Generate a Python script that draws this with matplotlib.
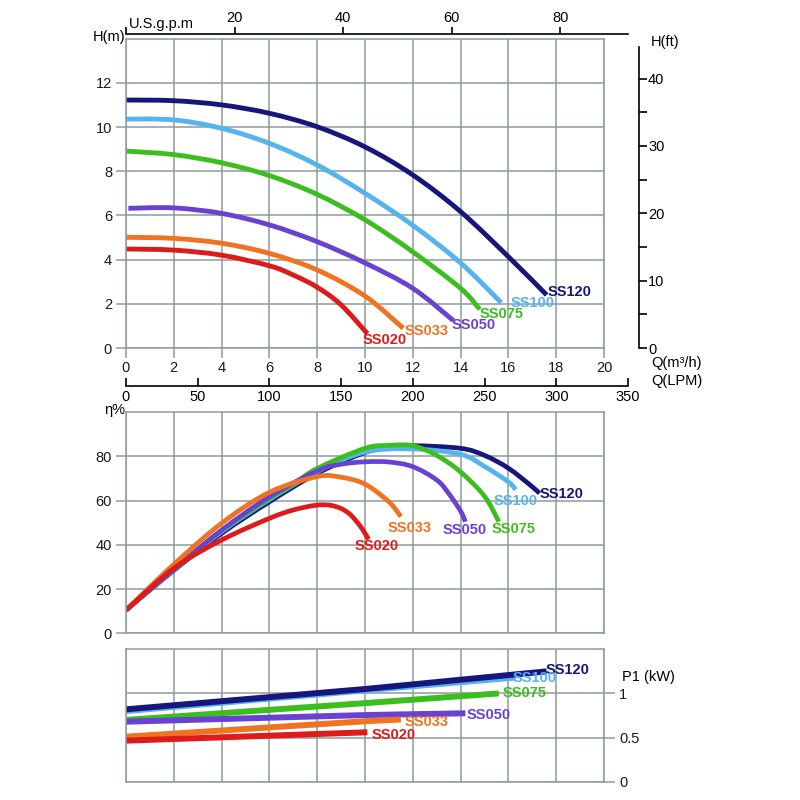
import numpy as np
import matplotlib
matplotlib.use("Agg")
import matplotlib.pyplot as plt
from matplotlib.path import Path
from matplotlib.patches import PathPatch

plt.rcParams['font.family'] = ['Liberation Sans', 'DejaVu Sans']

# pump models and colours
models = ['SS120', 'SS100', 'SS075', 'SS050', 'SS033', 'SS020']
colors = ['#16167c', '#55b3ee', '#3cbf1e', '#6a42d2', '#ef7321', '#df1a1a']

# H-Q curves (Q in m3/h, H in m)
hq_q = {
    'SS120': [0, 2, 4, 6, 8, 10, 12, 14, 16, 17.6],
    'SS100': [0, 2, 4, 6, 8, 10, 12, 14, 15.7],
    'SS075': [0, 2, 4, 6, 8, 10, 12, 14, 14.8],
    'SS050': [0.1, 2, 4, 6, 8, 10, 12, 13.7],
    'SS033': [0, 2, 4, 6, 8, 10, 11.6],
    'SS020': [0, 2, 4, 6, 7, 8, 9, 10.1],
}
hq_h = {
    'SS120': [11.22, 11.19, 11.0, 10.62, 10.01, 9.1, 7.83, 6.17, 4.13, 2.4],
    'SS100': [10.36, 10.32, 9.94, 9.26, 8.28, 7.0, 5.55, 3.85, 2.05],
    'SS075': [8.91, 8.75, 8.38, 7.8, 6.95, 5.8, 4.35, 2.7, 1.75],
    'SS050': [6.32, 6.34, 6.09, 5.57, 4.81, 3.85, 2.7, 1.24],
    'SS033': [5.01, 4.96, 4.74, 4.28, 3.53, 2.35, 0.89],
    'SS020': [4.48, 4.43, 4.2, 3.72, 3.3, 2.75, 1.95, 0.65],
}

# efficiency curves (%)
eff_q = {
    'SS120': [0, 2, 4, 6, 8, 10, 11, 12, 14, 15, 16, 17, 17.3],
    'SS100': [0, 2, 4, 6, 8, 10, 12, 14, 15, 16, 16.3],
    'SS075': [0, 2, 4, 6, 7, 8, 10, 11, 12, 13, 14, 15, 15.6],
    'SS050': [0, 2, 4, 6, 8, 9, 10, 11, 12, 13, 13.5, 14, 14.2],
    'SS033': [0, 2, 4, 6, 8, 9, 10, 11, 11.5],
    'SS020': [0, 2, 4, 6, 7, 8, 8.7, 9.3, 9.8, 10.15],
}
eff_v = {
    'SS120': [10.5, 28.5, 45.2, 59.5, 72.4, 81.8, 84.0, 84.9, 83.7, 80.5, 74.7, 66.3, 63.3],
    'SS100': [10.5, 28.8, 46.0, 60.5, 73.1, 82.0, 83.4, 81.0, 75.5, 68.5, 65.0],
    'SS075': [10.5, 29.0, 46.5, 61.0, 67.5, 74.6, 83.7, 85.0, 84.9, 80.5, 73.0, 62.0, 50.5],
    'SS050': [10.5, 29.0, 46.7, 61.8, 73.5, 76.5, 77.6, 77.5, 75.4, 69.4, 63.3, 55.3, 50.5],
    'SS033': [10.5, 31.2, 49.8, 63.8, 70.9, 70.6, 67.5, 59.5, 52.8],
    'SS020': [10.5, 29.4, 42.2, 52.0, 55.8, 58.0, 57.6, 54.5, 48.5, 42.5],
}

# input power P1 (kW)
p1_q = {
    'SS120': [0, 10, 17.6],
    'SS100': [0, 10, 16.3],
    'SS075': [0, 10, 15.6],
    'SS050': [0, 10, 14.2],
    'SS033': [0, 10, 11.5],
    'SS020': [0, 10.1],
}
p1_v = {
    'SS120': [0.82, 1.05, 1.25],
    'SS100': [0.80, 1.035, 1.18],
    'SS075': [0.70, 0.89, 1.0],
    'SS050': [0.68, 0.755, 0.775],
    'SS033': [0.51, 0.685, 0.705],
    'SS020': [0.465, 0.56],
}

# label anchors (left / centre of text) per panel
lab_hq = {'SS120': (17.66, 2.53), 'SS100': (16.09, 2.05), 'SS075': (14.81, 1.54),
          'SS050': (13.63, 1.04), 'SS033': (11.67, 0.78), 'SS020': (9.92, 0.36)}
lab_eff = {'SS120': (17.32, 63.0), 'SS100': (15.4, 59.9), 'SS075': (15.3, 47.2),
           'SS050': (13.26, 46.7), 'SS033': (10.96, 47.8), 'SS020': (9.58, 39.5)}
lab_p1 = {'SS120': (17.57, 1.27), 'SS100': (16.19, 1.17), 'SS075': (15.77, 1.007),
          'SS050': (14.27, 0.755), 'SS033': (11.67, 0.675), 'SS020': (10.29, 0.528)}

gc = '#8e9b9b'
fs = 10.5
lfs = 10.5

def fx(px):
    return px / 800.0

def fy(py):
    return 1 - py / 800.0

def smooth_curve(ax, xs, ys, color, lw):
    # catmull-rom style bezier path through the read points
    pts = np.column_stack([xs, ys]).astype(float)
    n = len(pts)
    if n < 3:
        ax.plot(xs, ys, color=color, lw=lw, solid_capstyle='butt')
        return
    verts = [pts[0]]
    codes = [Path.MOVETO]
    for i in range(n - 1):
        p0 = pts[max(i - 1, 0)]
        p1 = pts[i]
        p2 = pts[i + 1]
        p3 = pts[min(i + 2, n - 1)]
        c1 = p1 + (p2 - p0) / 6.0
        c2 = p2 - (p3 - p1) / 6.0
        verts += [c1, c2, p2]
        codes += [Path.CURVE4] * 3
    ax.add_patch(PathPatch(Path(verts, codes), fill=False, edgecolor=color, lw=lw,
                           capstyle='butt'))

fig = plt.figure(figsize=(8, 8), dpi=100)

def grid_axes(rect, ylim, ystep):
    ax = fig.add_axes(rect)
    ax.set_xlim(0, 20)
    ax.set_ylim(*ylim)
    ax.set_xticks(np.arange(0, 21, 2))
    ax.set_yticks(np.arange(ylim[0], ylim[1] + 1e-9, ystep))
    ax.grid(True, color=gc, lw=1.1)
    ax.set_axisbelow(True)
    for s in ax.spines.values():
        s.set_color(gc)
        s.set_linewidth(1.1)
    ax.tick_params(colors=gc, labelcolor='#1a1a1a', labelsize=fs, width=1.1)
    return ax

# ---- top panel: H-Q
ax1 = grid_axes([fx(126), fy(348), 478 / 800, (348 - 38.6) / 800], (0, 14), 2)
ax1.set_yticks(np.arange(0, 13, 2))
ax1.tick_params(axis='x', length=7, pad=2)
ax1.tick_params(axis='y', length=7, pad=3)
for m, c in zip(models, colors):
    smooth_curve(ax1, hq_q[m], hq_h[m], c, 3.5)
    ax1.text(lab_hq[m][0], lab_hq[m][1], m, color=c, fontsize=lfs, fontweight='bold',
             ha='left', va='center')
fig.text(fx(125), fy(37), 'H(m)', ha='right', va='center', fontsize=fs)

# feet axis on the right
axf = fig.add_axes(ax1.get_position())
axf.patch.set_visible(False)
axf.set_xlim(0, 20)
axf.set_ylim(0, 14 * 3.28084)
axf.set_xticks([])
axf.yaxis.tick_right()
for k in ['left', 'top', 'bottom']:
    axf.spines[k].set_visible(False)
axf.spines['right'].set_position(('outward', 35 * 0.72))
axf.spines['right'].set_bounds(0, 44.7)
axf.spines['right'].set_linewidth(1.2)
axf.set_yticks([0, 10, 20, 30, 40])
axf.set_yticks([5, 15, 25, 35], minor=True)
axf.tick_params(axis='y', which='both', direction='out', length=5.5, width=1.2,
                labelsize=fs, pad=1)
fig.text(fx(651), fy(42), 'H(ft)', ha='left', va='center', fontsize=fs)

# U.S. gpm axis on top
axg = fig.add_axes([fx(126), fy(34), 502 / 800, 0.0005])
axg.patch.set_visible(False)
axg.set_xlim(0, 21 / 0.227124)
axg.set_yticks([])
for k in ['left', 'right', 'bottom']:
    axg.spines[k].set_visible(False)
axg.spines['top'].set_linewidth(1.2)
axg.xaxis.tick_top()
axg.set_xticks([0, 20, 40, 60, 80])
axg.set_xticklabels(['', '20', '40', '60', '80'])
axg.tick_params(axis='x', direction='out', length=5, width=1.2, labelsize=fs, pad=1)
fig.text(fx(129), fy(31), 'U.S.g.p.m', ha='left', va='bottom', fontsize=fs)

# LPM axis under top panel
axl = fig.add_axes([fx(126), fy(386), 502 / 800, 0.0005])
axl.patch.set_visible(False)
axl.set_xlim(0, 350)
axl.set_yticks([])
for k in ['left', 'right', 'top']:
    axl.spines[k].set_visible(False)
axl.spines['bottom'].set_linewidth(1.2)
axl.set_xticks(np.arange(0, 351, 50))
axl.tick_params(axis='x', direction='in', length=6, width=1.2, labelsize=fs, pad=3)
fig.text(fx(651), fy(363), 'Q(m³/h)', ha='left', va='center', fontsize=fs)
fig.text(fx(651), fy(381), 'Q(LPM)', ha='left', va='center', fontsize=fs)

# ---- middle panel: efficiency
ax2 = grid_axes([fx(126), fy(633.3), 478 / 800, 221 / 800], (0, 100), 20)
ax2.set_yticks(np.arange(0, 81, 20))
ax2.tick_params(axis='x', length=0, labelbottom=False)
ax2.tick_params(axis='y', length=7, pad=3)
for m, c in zip(models, colors):
    smooth_curve(ax2, eff_q[m], eff_v[m], c, 3.4)
for m, c in zip(models, colors):
    ax2.text(lab_eff[m][0], lab_eff[m][1], m, color=c, fontsize=lfs, fontweight='bold',
             ha='left', va='center')
fig.text(fx(125), fy(410), 'η%', ha='right', va='center', fontsize=fs)

# ---- bottom panel: P1
ax3 = grid_axes([fx(126), fy(781.7), 478 / 800, 132.4 / 800], (0, 1.5), 0.5)
ax3.set_yticks([0, 0.5, 1.0])
ax3.set_yticklabels(['0', '0.5', '1'])
ax3.yaxis.tick_right()
ax3.tick_params(axis='x', length=0, labelbottom=False)
ax3.tick_params(axis='y', length=8, pad=3)
p1_order = ['SS100', 'SS120', 'SS075', 'SS050', 'SS033', 'SS020']
for m in p1_order:
    c = colors[models.index(m)]
    ax3.plot(p1_q[m], p1_v[m], color=c, lw=4.3, solid_capstyle='butt')
for m, c in zip(models, colors):
    ax3.text(lab_p1[m][0], lab_p1[m][1], m, color=c, fontsize=lfs, fontweight='bold',
             ha='left', va='center', zorder=5)
fig.text(fx(622), fy(677), 'P1 (kW)', ha='left', va='center', fontsize=fs)

fig.savefig('out.png', dpi=100)
